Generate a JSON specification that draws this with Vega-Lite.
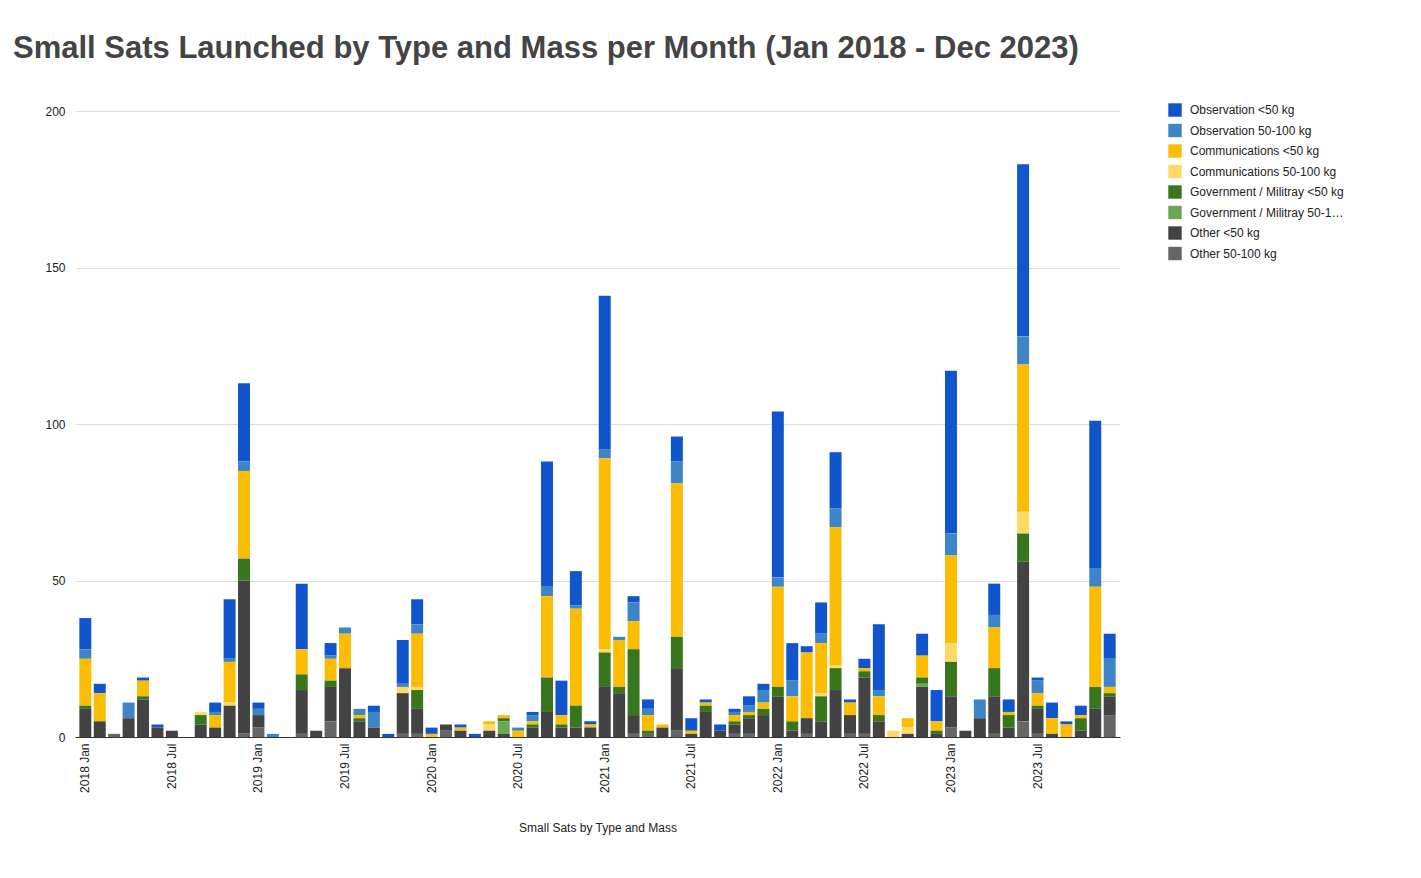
{
"$schema":"https://vega.github.io/schema/vega-lite/v6.json",
"width":1045,"height":626,
"autosize":"none",
"padding":{"left":75,"top":111,"right":301,"bottom":141},
"title":{"text":"Small Sats Launched by Type and Mass per Month (Jan 2018 - Dec 2023)","anchor":"start","dx":-32,"offset":38,"fontSize":31,"font":"Liberation Sans","fontWeight":"bold","color":"#444444"},
"config":{"view":{"stroke":null},"font":"Liberation Sans"},
"data":{"values":[
{"m":"2018-01","xl":9,"gl":1,"cl":15,"om":3,"ol":10},
{"m":"2018-02","xl":5,"cl":9,"ol":3},
{"m":"2018-03","xm":1},
{"m":"2018-04","xl":6,"om":5},
{"m":"2018-05","xl":12,"gl":1,"cl":5,"ol":1},
{"m":"2018-06","xl":3,"ol":1},
{"m":"2018-07","xl":2},
{"m":"2018-08"},
{"m":"2018-09","xl":4,"gl":3,"cm":1},
{"m":"2018-10","xl":3,"cl":4,"om":1,"ol":3},
{"m":"2018-11","xl":10,"cm":1,"cl":13,"om":1,"ol":19},
{"m":"2018-12","xm":1,"xl":49,"gl":7,"cl":28,"om":3,"ol":25},
{"m":"2019-01","xm":3,"xl":4,"om":2,"ol":2},
{"m":"2019-02","om":1},
{"m":"2019-03"},
{"m":"2019-04","xm":1,"xl":14,"gl":5,"cl":8,"ol":21},
{"m":"2019-05","xl":2},
{"m":"2019-06","xm":5,"xl":11,"gl":2,"cl":7,"om":1,"ol":4},
{"m":"2019-07","xl":22,"cl":11,"om":2},
{"m":"2019-08","xl":5,"gl":1,"cl":1,"om":2},
{"m":"2019-09","xl":3,"om":5,"ol":2},
{"m":"2019-10","ol":1},
{"m":"2019-11","xm":1,"xl":13,"cm":2,"om":1,"ol":14},
{"m":"2019-12","xm":1,"xl":8,"gl":6,"cm":1,"cl":17,"om":3,"ol":8},
{"m":"2020-01","cl":1,"ol":2},
{"m":"2020-02","xm":2,"xl":2},
{"m":"2020-03","xl":2,"cl":1,"ol":1},
{"m":"2020-04","ol":1},
{"m":"2020-05","xl":2,"cm":2,"cl":1},
{"m":"2020-06","xl":1,"gm":4,"gl":1,"cl":1},
{"m":"2020-07","cl":2,"om":1},
{"m":"2020-08","xl":3,"gl":1,"cl":1,"om":2,"ol":1},
{"m":"2020-09","xl":8,"gl":11,"cl":26,"om":3,"ol":40},
{"m":"2020-10","xl":3,"gl":1,"cl":3,"ol":11},
{"m":"2020-11","xl":3,"gl":7,"cl":31,"om":1,"ol":11},
{"m":"2020-12","xl":3,"cl":1,"ol":1},
{"m":"2021-01","xl":16,"gl":11,"cm":1,"cl":61,"om":3,"ol":49},
{"m":"2021-02","xl":14,"gl":2,"cl":15,"om":1},
{"m":"2021-03","xm":1,"xl":6,"gl":21,"cl":9,"om":6,"ol":2},
{"m":"2021-04","xm":1,"gl":1,"cl":5,"om":2,"ol":3},
{"m":"2021-05","xl":3,"cl":1},
{"m":"2021-06","xm":2,"xl":20,"gl":10,"cl":49,"om":7,"ol":8},
{"m":"2021-07","xl":1,"cl":1,"ol":4},
{"m":"2021-08","xl":8,"gl":2,"cl":1,"ol":1},
{"m":"2021-09","xl":2,"ol":2},
{"m":"2021-10","xm":1,"xl":3,"gl":1,"cl":2,"om":1,"ol":1},
{"m":"2021-11","xm":1,"xl":5,"gl":1,"cl":1,"om":2,"ol":3},
{"m":"2021-12","xl":7,"gl":2,"cl":2,"om":4,"ol":2},
{"m":"2022-01","xl":13,"gl":3,"cl":32,"om":3,"ol":53},
{"m":"2022-02","xl":2,"gl":3,"cl":8,"om":5,"ol":12},
{"m":"2022-03","xm":1,"xl":5,"cl":21,"ol":2},
{"m":"2022-04","xl":5,"gl":8,"cm":1,"cl":16,"om":3,"ol":10},
{"m":"2022-05","xl":15,"gl":7,"cm":1,"cl":44,"om":6,"ol":18},
{"m":"2022-06","xm":1,"xl":6,"cl":4,"ol":1},
{"m":"2022-07","xm":1,"xl":18,"gl":2,"cl":1,"ol":3},
{"m":"2022-08","xl":5,"gl":2,"cl":6,"om":2,"ol":21},
{"m":"2022-09","cm":2},
{"m":"2022-10","xl":1,"cm":2,"cl":3},
{"m":"2022-11","xl":16,"gm":1,"gl":2,"cl":7,"ol":7},
{"m":"2022-12","xl":1,"gl":1,"cl":3,"ol":10},
{"m":"2023-01","xm":3,"xl":10,"gl":11,"cm":6,"cl":28,"om":7,"ol":52},
{"m":"2023-02","xl":2},
{"m":"2023-03","xl":6,"om":6},
{"m":"2023-04","xm":1,"xl":12,"gl":9,"cl":13,"om":4,"ol":10},
{"m":"2023-05","xl":3,"gl":4,"cl":1,"ol":4},
{"m":"2023-06","xm":5,"xl":51,"gl":9,"cm":7,"cl":47,"om":9,"ol":55},
{"m":"2023-07","xm":1,"xl":8,"gl":1,"cl":4,"om":4,"ol":1},
{"m":"2023-08","xl":1,"cl":5,"ol":5},
{"m":"2023-09","cl":4,"ol":1},
{"m":"2023-10","xl":2,"gl":4,"cl":1,"ol":3},
{"m":"2023-11","xl":9,"gl":7,"cl":32,"om":6,"ol":47},
{"m":"2023-12","xm":7,"xl":6,"gl":1,"cl":2,"om":9,"ol":8}
]},
"transform":[
{"fold":["ol","om","cl","cm","gl","gm","xl","xm"],"as":["t","v"]},
{"filter":"datum.v > 0"},
{"calculate":"indexof(['xm','xl','gm','gl','cm','cl','om','ol'], datum.t)","as":"ord"}
],
"mark":{"type":"bar"},
"encoding":{
"x":{"field":"m","type":"ordinal","title":"Small Sats by Type and Mass",
 "scale":{"paddingInner":0.17,"paddingOuter":0.3,"domain":["2018-01","2018-02","2018-03","2018-04","2018-05","2018-06","2018-07","2018-08","2018-09","2018-10","2018-11","2018-12","2019-01","2019-02","2019-03","2019-04","2019-05","2019-06","2019-07","2019-08","2019-09","2019-10","2019-11","2019-12","2020-01","2020-02","2020-03","2020-04","2020-05","2020-06","2020-07","2020-08","2020-09","2020-10","2020-11","2020-12","2021-01","2021-02","2021-03","2021-04","2021-05","2021-06","2021-07","2021-08","2021-09","2021-10","2021-11","2021-12","2022-01","2022-02","2022-03","2022-04","2022-05","2022-06","2022-07","2022-08","2022-09","2022-10","2022-11","2022-12","2023-01","2023-02","2023-03","2023-04","2023-05","2023-06","2023-07","2023-08","2023-09","2023-10","2023-11","2023-12"]},
 "axis":{"labelAngle":270,"labelAlign":"right","labelBaseline":"middle","labelFontSize":12,"labelColor":"#222222","ticks":false,"domainColor":"#333333","labelPadding":6,
  "labelExpr":"substring(datum.value,5,7)=='01' ? substring(datum.value,0,4)+' Jan' : (substring(datum.value,5,7)=='07' ? substring(datum.value,0,4)+' Jul' : '')",
  "titleFontSize":12,"titleFontWeight":"normal","titleColor":"#222222","titlePadding":30}},
"y":{"field":"v","type":"quantitative","aggregate":"sum","title":null,
 "scale":{"domain":[0,200]},
 "axis":{"values":[0,50,100,150,200],"ticks":false,"domain":false,"gridColor":"#dddddd","labelFontSize":12,"labelColor":"#222222","labelPadding":10}},
"color":{"field":"t","type":"nominal",
 "scale":{"domain":["ol","om","cl","cm","gl","gm","xl","xm"],"range":["#1155cc","#3d85c6","#fbbc04","#ffd966","#38761d","#6aa84f","#434343","#666666"]},
 "legend":{"title":null,"orient":"none","legendX":1093,"legendY":-8,"symbolType":"square","symbolSize":180,"symbolStrokeWidth":0,"labelFontSize":12,"labelColor":"#222222","rowPadding":6.5,"labelOffset":8,
  "labelExpr":"datum.label=='ol'?'Observation <50 kg':datum.label=='om'?'Observation 50-100 kg':datum.label=='cl'?'Communications <50 kg':datum.label=='cm'?'Communications 50-100 kg':datum.label=='gl'?'Government / Militray <50 kg':datum.label=='gm'?'Government / Militray 50-100 kg':datum.label=='xl'?'Other <50 kg':'Other 50-100 kg'"}},
"order":{"field":"ord","type":"quantitative","sort":"ascending"}
}
}
